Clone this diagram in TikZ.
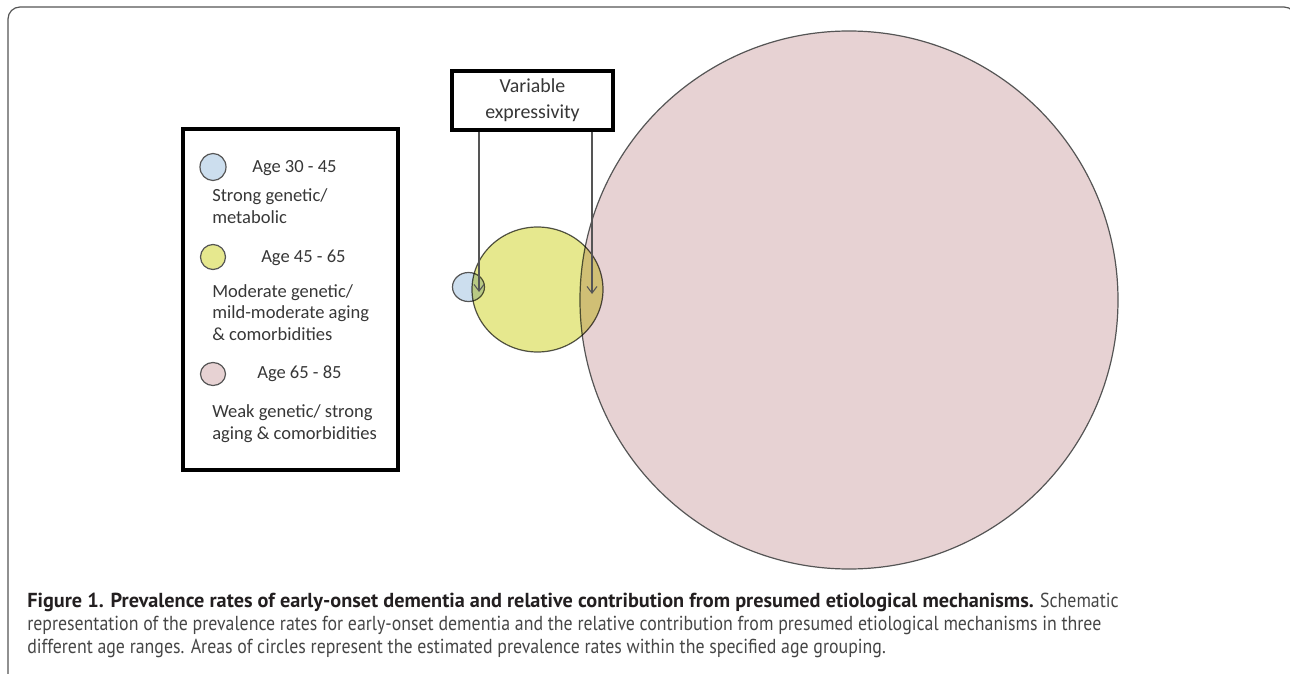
\documentclass[tikz,border=0pt]{standalone}
\usepackage{fontspec}
\setmainfont{Carlito}
\newfontfamily\capfont[FakeStretch=0.88]{PT Sans}
\newfontfamily\capboldfont{PT Sans}
\usetikzlibrary{arrows.meta}
\usepackage{tikz}

\definecolor{pinkfill}{RGB}{231,210,211}
\definecolor{yellowfill}{RGB}{230,232,142}
\definecolor{bluefill}{RGB}{204,222,238}
\definecolor{edgegray}{RGB}{85,85,85}
\definecolor{textgray}{RGB}{55,55,55}
\definecolor{capbold}{RGB}{35,31,32}
\definecolor{capgray}{RGB}{70,70,70}

\begin{document}
\begin{tikzpicture}[x=0.75pt,y=-0.75pt,
    >={Straight Barb[length=5pt,width=7.5pt]},
    agebubble/.style={draw=edgegray,line width=0.9pt},
    thickbox/.style={draw=black,line width=2.3pt,inner sep=0pt},
    legtext/.style={anchor=base west,inner sep=0pt,text=textgray,font=\fontsize{13.9}{15.8}\selectfont,align=left}]
    % Page and frame
    \clip (0,0) rectangle (1290,674);
    \draw[edgegray,line width=0.9pt,rounded corners=9pt] (8,7) rectangle (1296,700);

    % Draw the prevalence circles
    \draw[agebubble,fill=pinkfill] (849,300) circle[radius=269];
    \draw[agebubble,fill=bluefill] (468.5,287) ellipse[x radius=16,y radius=14.5];
    \begin{scope}[blend mode=multiply]
        \draw[agebubble,fill=yellowfill] (537.5,289.5) ellipse[x radius=65.5,y radius=62.5];
    \end{scope}

    % Variable expressivity box and its arrows
    \node[thickbox,fill=white,minimum width=161*0.75pt,minimum height=59*0.75pt,
          align=center,text=textgray,font=\fontsize{14.9}{19.5}\selectfont] (varexp) at (532.5,100.5) {Variable\\expressivity};
    \coordinate (tipA) at (479,292);
    \coordinate (tipB) at (592,294);
    \draw[->,edgegray,line width=0.8pt] (varexp.south -| tipA) -- (tipA);
    \draw[->,edgegray,line width=0.8pt] (varexp.south -| tipB) -- (tipB);

    % Legend
    \node[thickbox,minimum width=215*0.75pt,minimum height=341*0.75pt] (legend) at (290.5,299.5) {};
    \draw[agebubble,fill=bluefill] (213,167) ellipse[x radius=13,y radius=13.5] coordinate (keyA);
    \draw[agebubble,fill=yellowfill] (213,257) ellipse[x radius=12.5,y radius=12.5] coordinate (keyB);
    \draw[agebubble,fill=pinkfill] (213,374) ellipse[x radius=12.5,y radius=11.5] coordinate (keyC);
    % (multi-line texts sit on the baseline of their last line)
    \node[legtext] (ageA) at (252,172) {Age 30 - 45};
    \node[legtext] (descA) at (212,223) {Strong genetic/\\metabolic};
    \node[legtext] (ageB) at (261,262) {Age 45 - 65};
    \node[legtext] (descB) at (212,340) {Moderate genetic/\\mild-moderate aging\\\& comorbidities};
    \node[legtext] (ageC) at (257,378) {Age 65 - 85};
    \node[legtext] (descC) at (212,439) {Weak genetic/ strong\\aging \& comorbidities};

    % Caption
    \node[anchor=base west,inner sep=0pt,align=left,text=capgray,
          font=\capfont\fontsize{15.2}{16.9}\selectfont] (caption) at (27,653)
        {\textcolor{capbold}{\capboldfont\bfseries Figure 1. Prevalence rates of early-onset dementia and relative contribution from presumed etiological mechanisms.} Schematic\\
         representation of the prevalence rates for early-onset dementia and the relative contribution from presumed etiological mechanisms in three\\
         different age ranges. Areas of circles represent the estimated prevalence rates within the specified age grouping.};
\end{tikzpicture}
\end{document}
